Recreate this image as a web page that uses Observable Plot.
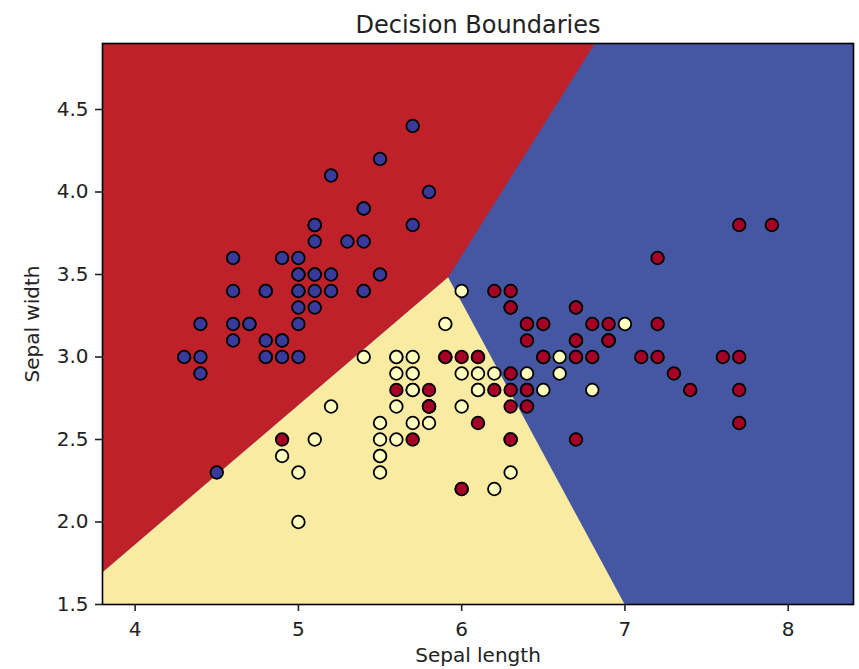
<!DOCTYPE html>
<html>
<head>
<meta charset="utf-8">
<script src="https://cdn.jsdelivr.net/npm/d3@7"></script>
<script src="https://cdn.jsdelivr.net/npm/@observablehq/plot@0.6"></script>
<style>
  html, body { margin: 0; padding: 0; background: #fff; }
  #chart svg { display: block; }
</style>
</head>
<body>
<div id="chart"></div>
<script>
// ---- Data (iris: sepal length, sepal width) ----
const setosaX = [5.1,4.9,4.7,4.6,5.0,5.4,4.6,5.0,4.4,4.9,5.4,4.8,4.8,4.3,5.8,5.7,5.4,5.1,5.7,5.1,5.4,5.1,4.6,5.1,4.8,5.0,5.0,5.2,5.2,4.7,4.8,5.4,5.2,5.5,4.9,5.0,5.5,4.9,4.4,5.1,5.0,4.5,4.4,5.0,5.1,4.8,5.1,4.6,5.3,5.0];
const setosaY = [3.5,3.0,3.2,3.1,3.6,3.9,3.4,3.4,2.9,3.1,3.7,3.4,3.0,3.0,4.0,4.4,3.9,3.5,3.8,3.8,3.4,3.7,3.6,3.3,3.4,3.0,3.4,3.5,3.4,3.2,3.1,3.4,4.1,4.2,3.1,3.2,3.5,3.6,3.0,3.4,3.5,2.3,3.2,3.5,3.8,3.0,3.8,3.2,3.7,3.3];
const versicolorX = [7.0,6.4,6.9,5.5,6.5,5.7,6.3,4.9,6.6,5.2,5.0,5.9,6.0,6.1,5.6,6.7,5.6,5.8,6.2,5.6,5.9,6.1,6.3,6.1,6.4,6.6,6.8,6.7,6.0,5.7,5.5,5.5,5.8,6.0,5.4,6.0,6.7,6.3,5.6,5.5,5.5,6.1,5.8,5.0,5.6,5.7,5.7,6.2,5.1,5.7];
const versicolorY = [3.2,3.2,3.1,2.3,2.8,2.8,3.3,2.4,2.9,2.7,2.0,3.0,2.2,2.9,2.9,3.1,3.0,2.7,2.2,2.5,3.2,2.8,2.5,2.8,2.9,3.0,2.8,3.0,2.9,2.6,2.4,2.4,2.7,2.7,3.0,3.4,3.1,2.3,3.0,2.5,2.6,3.0,2.6,2.3,2.7,3.0,2.9,2.9,2.5,2.8];
const virginicaX = [6.3,5.8,7.1,6.3,6.5,7.6,4.9,7.3,6.7,7.2,6.5,6.4,6.8,5.7,5.8,6.4,6.5,7.7,7.7,6.0,6.9,5.6,7.7,6.3,6.7,7.2,6.2,6.1,6.4,7.2,7.4,7.9,6.4,6.3,6.1,7.7,6.3,6.4,6.0,6.9,6.7,6.9,5.8,6.8,6.7,6.7,6.3,6.5,6.2,5.9];
const virginicaY = [3.3,2.7,3.0,2.9,3.0,3.0,2.5,2.9,2.5,3.6,3.2,2.7,3.0,2.5,2.8,3.2,3.0,3.8,2.6,2.2,3.2,2.8,2.8,2.7,3.3,3.2,2.8,3.0,2.8,3.0,2.8,3.8,2.8,2.8,2.6,3.0,3.4,3.1,3.0,3.1,3.1,3.1,2.7,3.2,3.3,3.0,2.5,3.0,3.4,3.0];

// Decision-boundary vertices
const redRegionX   = [3.8, 5.92, 6.82];
const redRegionY   = [1.69, 3.48, 4.9];
const yellowRegionX = [3.8, 5.92, 7.0];
const yellowRegionY = [1.69, 3.48, 1.5];

const xDomain = [3.8, 8.4];
const yDomain = [1.5, 4.9];
const xTicks = [4, 5, 6, 7, 8];
const yTicks = [1.5, 2.0, 2.5, 3.0, 3.5, 4.0, 4.5];

const classNames = ["setosa", "versicolor", "virginica"];
const pointColors = ["#383a9c", "#ffffbf", "#a50026"];
const regionColors = { red: "#be2129", yellow: "#f9eba1", blue: "#4556a3" };

// ---- Build tables ----
const points = [];
[[setosaX, setosaY], [versicolorX, versicolorY], [virginicaX, virginicaY]].forEach(([xs, ys], c) => {
  xs.forEach((x, i) => points.push({ x, y: ys[i], cls: classNames[c] }));
});
const redArea = redRegionX.map((x, i) => ({ x, y: redRegionY[i] }));
const yellowArea = yellowRegionX.map((x, i) => ({ x, y: yellowRegionY[i] }));

const chart = Plot.plot({
  width: 859,
  height: 669,
  marginLeft: 102,
  marginRight: 6,
  marginTop: 43,
  marginBottom: 65,
  style: { fontFamily: "DejaVu Sans, sans-serif", fontSize: "20px", color: "#222", background: "#fff" },
  x: { domain: xDomain },
  y: { domain: yDomain },
  color: { domain: classNames, range: pointColors },
  marks: [
    Plot.frame({ fill: regionColors.blue }),
    Plot.areaY(redArea, { x: "x", y1: "y", y2: yDomain[1], fill: regionColors.red }),
    Plot.areaY(yellowArea, { x: "x", y1: yDomain[0], y2: "y", fill: regionColors.yellow }),
    Plot.dot(points, { x: "x", y: "y", fill: "cls", stroke: "black", strokeWidth: 1.8, r: 6.3 }),
    Plot.frame({ stroke: "black", strokeWidth: 1.6 }),
    Plot.axisX({ ticks: xTicks, tickFormat: d3.format("d"), tickSize: 7, tickPadding: 10,
                 strokeWidth: 1.6, fontSize: 20, label: "Sepal length", labelAnchor: "center",
                 labelOffset: 57, labelArrow: "none" }),
    Plot.axisY({ ticks: yTicks, tickFormat: d3.format(".1f"), tickSize: 7, tickPadding: 7,
                 strokeWidth: 1.6, fontSize: 20, label: "Sepal width", labelAnchor: "center",
                 labelOffset: 78, labelArrow: "none" }),
    Plot.text(["Decision Boundaries"], { frameAnchor: "top", dy: -28, fontSize: 24, fill: "#222" })
  ]
});
document.getElementById("chart").appendChild(chart);
</script>
</body>
</html>
